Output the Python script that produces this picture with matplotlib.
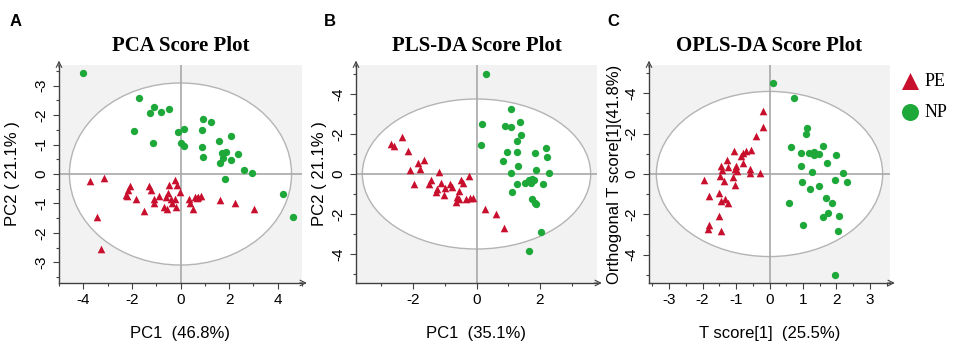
import numpy as np
import matplotlib.pyplot as plt
from matplotlib.patches import Ellipse
from matplotlib.ticker import MultipleLocator, FuncFormatter

# ---- data ----
# A: PCA
pca_np_x = [-4.01, -1.70, -1.08, -1.27, -0.80, -0.47, -1.92, -1.15, -0.11, 0.15, 0.00, 0.14, 0.94, 1.27, 0.87,
            0.87, 0.94, 1.58, 2.07, 1.69, 1.88, 1.73, 1.63, 2.07, 2.38, 2.63, 2.93, 1.84, 4.22, 4.65]
pca_np_y = [-3.42, -2.59, -2.29, -2.06, -2.11, -2.20, -1.46, -1.04, -1.42, -1.53, -1.06, -0.96, -1.88, -1.76, -1.49,
            -0.93, -0.59, -1.13, -1.28, -0.72, -0.76, -0.53, -0.36, -0.48, -0.67, -0.14, -0.02, 0.17, 0.68, 1.46]
pca_pe_x = [-3.73, -3.14, -3.42, -3.29, -2.07, -2.16, -2.24, -2.19, -1.85, -1.52, -1.29, -1.23, -1.11, -1.08, -0.87,
            -0.59, -0.47, -0.51, -0.41, -0.66, -0.55, -0.35, -0.21, -0.14, -0.04, -0.17, -0.21, 0.36, 0.41, 0.50,
            0.59, 0.72, 0.83, 0.69, 1.63, 2.25, 3.02]
pca_pe_y = [0.24, 0.12, 1.47, 2.53, 0.41, 0.54, 0.71, 0.75, 0.86, 1.25, 0.41, 0.54, 0.97, 0.86, 0.74,
            0.77, 0.37, 0.66, 0.86, 1.11, 1.20, 1.00, 0.20, 0.37, 0.61, 1.11, 0.86, 0.86, 1.00, 1.19,
            0.77, 0.77, 0.75, 0.83, 0.88, 1.00, 1.19]

# B: PLS-DA
pls_np_x = [0.29, 1.10, 0.16, 0.89, 1.10, 1.37, 1.39, 1.29, 0.13, 2.18, 0.97, 1.29, 1.86, 2.21, 0.84, 1.32,
            1.88, 1.09, 2.30, 1.64, 1.74, 1.82, 1.53, 1.29, 1.72, 2.09, 1.13, 1.74, 1.83, 1.87, 2.02, 1.65]
pls_np_y = [-5.02, -3.23, -2.52, -2.42, -2.33, -2.58, -1.95, -1.67, -1.45, -1.28, -1.08, -1.08, -1.05, -0.83, -0.67, -0.40,
            -0.22, -0.03, -0.03, 0.30, 0.25, 0.30, 0.43, 0.52, 0.43, 0.52, 0.92, 1.23, 1.43, 1.50, 2.92, 3.83]
pls_pe_x = [-2.34, -2.71, -2.60, -2.16, -1.85, -1.64, -1.79, -2.11, -1.98, -1.18, -1.43, -1.50, -1.23, -1.29, -1.13, -1.00,
            -1.02, -0.84, -0.78, -0.65, -0.56, -0.49, -0.41, -0.63, -0.56, -0.32, -0.22, -0.12, -0.24, 0.26, 0.61, 0.87]
pls_pe_y = [-1.83, -1.50, -1.42, -1.17, -0.53, -0.70, -0.25, -0.20, 0.52, -0.08, 0.30, 0.50, 0.77, 0.88, 0.47, 0.72,
            1.05, 0.50, 0.63, 1.38, 0.85, 0.30, 0.43, 1.13, 1.25, 1.25, 1.18, 1.22, 0.08, 1.75, 2.02, 2.72]

# C: OPLS-DA
opls_np_x = [0.11, 0.74, 1.12, 1.08, 0.65, 1.61, 0.94, 1.18, 1.34, 1.32, 1.48, 1.99, 1.71, 0.94, 1.27,
             2.19, 0.96, 1.97, 2.32, 1.20, 1.48, 0.59, 1.68, 1.87, 1.75, 1.60, 2.08, 0.99, 2.04, 1.96]
opls_np_y = [-4.53, -3.77, -2.26, -1.97, -1.36, -1.39, -1.02, -1.06, -1.11, -0.93, -0.99, -0.94, -0.56, -0.40, -0.12,
             -0.07, 0.38, 0.30, 0.40, 0.76, 0.60, 1.45, 1.21, 1.45, 1.95, 2.12, 2.08, 2.55, 2.83, 5.02]
opls_pe_x = [-0.20, -0.20, -0.40, -0.56, -0.70, -0.78, -1.06, -0.86, -1.28, -0.78, -1.46, -1.43, -1.23, -1.00, -1.03,
             -0.96, -0.58, -0.58, -0.28, -1.48, -1.36, -1.10, -1.03, -1.96, -1.50, -1.80, -1.46, -1.33, -1.23, -1.52,
             -1.80, -1.85, -1.46]
opls_pe_y = [-3.14, -2.35, -1.88, -1.19, -1.16, -1.06, -1.16, -0.91, -0.69, -0.53, -0.41, -0.20, -0.36, -0.40, -0.25,
             -0.15, -0.23, -0.03, -0.03, 0.10, 0.35, 0.13, 0.55, 0.30, 0.93, 1.09, 1.32, 1.24, 1.42, 2.08,
             2.55, 2.73, 2.81]

panels = [
    dict(letter="A", title="PCA Score Plot", xlabel="PC1  (46.8%)", ylabel="PC2 ( 21.1% )",
         pe=(pca_pe_x, pca_pe_y), np_=(pca_np_x, pca_np_y), ell=(4.57, 3.09),
         xlim=(-5.0, 5.0), ylim=(3.7, -3.7), xmaj=2, xmin=1, ymaj=1, ymin=0.5,
         rect=[59, 65, 302, 283], ylab_x=-0.19),
    dict(letter="B", title="PLS-DA Score Plot", xlabel="PC1  (35.1%)", ylabel="PC2 ( 21.1% )",
         pe=(pls_pe_x, pls_pe_y), np_=(pls_np_x, pls_np_y), ell=(3.6, 3.75),
         xlim=(-3.8, 3.8), ylim=(5.45, -5.45), xmaj=2, xmin=1, ymaj=2, ymin=1,
         rect=[356, 65, 597, 283], ylab_x=-0.15),
    dict(letter="C", title="OPLS-DA Score Plot", xlabel="T score[1]  (25.5%)", ylabel="Orthogonal T score[1](41.8%)",
         pe=(opls_pe_x, opls_pe_y), np_=(opls_np_x, opls_np_y), ell=(3.38, 4.09),
         xlim=(-3.6, 3.6), ylim=(5.4, -5.4), xmaj=1, xmin=0.5, ymaj=2, ymin=1,
         rect=[649, 65, 890, 283], ylab_x=-0.145),
]

red = "#c8102e"
green = "#1fa83a"
W, H = 957, 356

plt.rcParams['font.family'] = ['Liberation Sans', 'DejaVu Sans']
plt.rcParams['axes.unicode_minus'] = False
fig = plt.figure(figsize=(9.57, 3.56), dpi=100)

# the y tick labels in the source carry a dash on both sides of zero
ylab_fmt = FuncFormatter(lambda v, pos: "0" if abs(v) < 1e-9 else "-%g" % abs(v))

for p in panels:
    x0, y0, x1, y1 = p["rect"]
    ax = fig.add_axes([x0 / W, 1 - y1 / H, (x1 - x0) / W, (y1 - y0) / H])
    ax.set_facecolor("#f2f2f2")
    ax.add_patch(Ellipse((0, 0), 2 * p["ell"][0], 2 * p["ell"][1], facecolor="white",
                         edgecolor="#b4b4b4", lw=1.0, zorder=1))
    ax.axhline(0, color="#a8a8a8", lw=1.2, zorder=2)
    ax.axvline(0, color="#a8a8a8", lw=1.2, zorder=2)
    ax.scatter(*p["pe"], marker="^", s=30, color=red, zorder=3, linewidths=0)
    ax.scatter(*p["np_"], marker="o", s=28, color=green, zorder=3, linewidths=0)
    ax.set_xlim(p["xlim"])
    ax.set_ylim(p["ylim"])
    ax.xaxis.set_major_locator(MultipleLocator(p["xmaj"]))
    ax.xaxis.set_minor_locator(MultipleLocator(p["xmin"]))
    ax.yaxis.set_major_locator(MultipleLocator(p["ymaj"]))
    ax.yaxis.set_minor_locator(MultipleLocator(p["ymin"]))
    ax.yaxis.set_major_formatter(ylab_fmt)
    ax.tick_params(which="major", length=4, width=0.8, color="#404040", labelsize=11)
    ax.tick_params(which="minor", length=2, width=0.8, color="#404040")
    ax.tick_params(axis="y", labelrotation=90)
    for lab in ax.get_yticklabels():
        lab.set_va("center")
    for s in ["top", "right"]:
        ax.spines[s].set_visible(False)
    for s in ["left", "bottom"]:
        ax.spines[s].set_color("#404040")
        ax.spines[s].set_linewidth(1.0)
    ax.annotate("", xy=(1.02, 0), xytext=(0.99, 0), xycoords="axes fraction",
                arrowprops=dict(arrowstyle="->", color="#404040", lw=0.8, shrinkA=0, shrinkB=0),
                annotation_clip=False)
    ax.annotate("", xy=(0, 1.02), xytext=(0, 0.99), xycoords="axes fraction",
                arrowprops=dict(arrowstyle="->", color="#404040", lw=0.8, shrinkA=0, shrinkB=0),
                annotation_clip=False)
    ax.set_xlabel(p["xlabel"], fontsize=12)
    ax.set_ylabel(p["ylabel"], fontsize=12)
    ax.xaxis.set_label_coords(0.5, -0.23)
    ax.xaxis.label.set_va("center")
    ax.yaxis.set_label_coords(p["ylab_x"], 0.5)
    ax.yaxis.label.set_va("center")
    ax.set_title(p["title"], fontsize=15, fontweight="bold", family="Liberation Serif", pad=10)
    lx = {"A": 16, "B": 330, "C": 613}[p["letter"]]
    fig.text(lx / W, 1 - 22 / H, p["letter"], fontsize=12, fontweight="bold", ha="center", va="center")

    if p["letter"] == "C":
        h1 = ax.scatter([], [], marker="^", s=150, color=red, linewidths=0)
        h2 = ax.scatter([], [], marker="o", s=150, color=green, linewidths=0)
        fig.legend([h1, h2], ["PE", "NP"], loc="upper left", bbox_to_anchor=(902 / W, 1 - 73 / H),
                   frameon=False, prop={"family": "Liberation Serif", "size": 13},
                   handlelength=0.9, handletextpad=0.35, labelspacing=0.75, borderaxespad=0,
                   borderpad=0)

fig.savefig("out.png", dpi=100)
